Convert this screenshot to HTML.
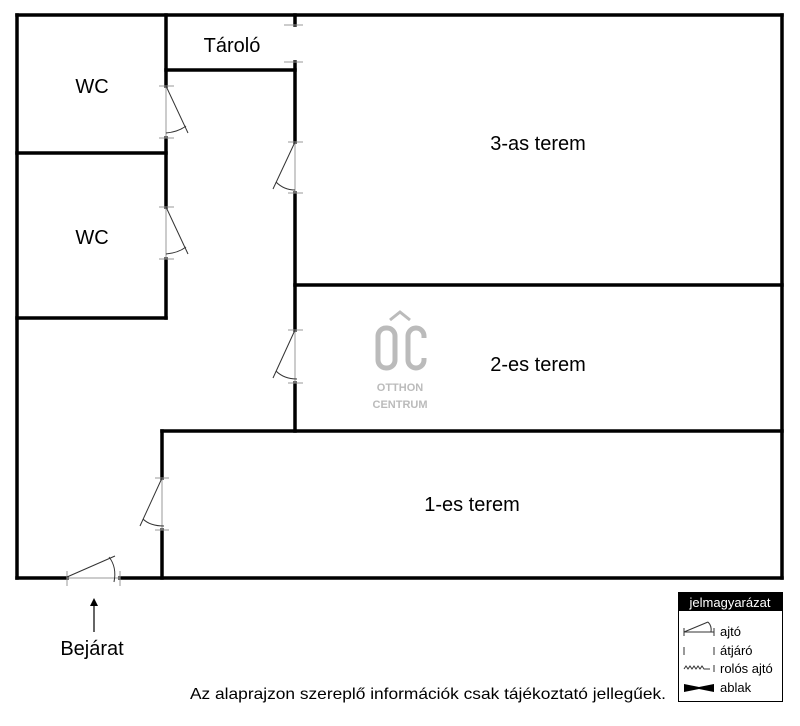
<!DOCTYPE html>
<html><head><meta charset="utf-8"><style>
body{margin:0;background:#fff;width:800px;height:721px;overflow:hidden;font-family:"Liberation Sans",sans-serif}
</style></head><body>
<svg width="800" height="721" viewBox="0 0 800 721" xmlns="http://www.w3.org/2000/svg" font-family="Liberation Sans, sans-serif">
<g stroke="#000" stroke-width="3.5" fill="none" stroke-linecap="square">
<line x1="17" y1="15" x2="782" y2="15"/>
<line x1="782" y1="15" x2="782" y2="578"/>
<line x1="17" y1="15" x2="17" y2="578"/>
<line x1="17" y1="578" x2="67" y2="578"/>
<line x1="120" y1="578" x2="782" y2="578"/>
<line x1="166" y1="15" x2="166" y2="86"/>
<line x1="166" y1="138" x2="166" y2="207"/>
<line x1="166" y1="259" x2="166" y2="318"/>
<line x1="17" y1="153" x2="166" y2="153"/>
<line x1="17" y1="318" x2="166" y2="318"/>
<line x1="166" y1="70" x2="295" y2="70"/>
<line x1="295" y1="15" x2="295" y2="25"/>
<line x1="295" y1="62" x2="295" y2="142"/>
<line x1="295" y1="193" x2="295" y2="330"/>
<line x1="295" y1="383" x2="295" y2="431"/>
<line x1="295" y1="285" x2="782" y2="285"/>
<line x1="162" y1="431" x2="782" y2="431"/>
<line x1="162" y1="431" x2="162" y2="478"/>
<line x1="162" y1="530" x2="162" y2="578"/>
</g>
<g stroke="#999" stroke-width="1" fill="none">
<line x1="284" y1="25" x2="303" y2="25"/><line x1="284" y1="62" x2="303" y2="62"/>
<line x1="159" y1="86" x2="174" y2="86"/><line x1="159" y1="138" x2="174" y2="138"/><line x1="166" y1="86" x2="166" y2="138"/>
<line x1="159" y1="207" x2="174" y2="207"/><line x1="159" y1="259" x2="174" y2="259"/><line x1="166" y1="207" x2="166" y2="259"/>
<line x1="288" y1="142" x2="303" y2="142"/><line x1="288" y1="193" x2="303" y2="193"/><line x1="295" y1="142" x2="295" y2="193"/>
<line x1="288" y1="330" x2="303" y2="330"/><line x1="288" y1="383" x2="303" y2="383"/><line x1="295" y1="330" x2="295" y2="383"/>
<line x1="155" y1="478" x2="169" y2="478"/><line x1="155" y1="530" x2="169" y2="530"/><line x1="162" y1="478" x2="162" y2="530"/>
<line x1="67" y1="571" x2="67" y2="586"/><line x1="120" y1="571" x2="120" y2="586"/><line x1="67" y1="578" x2="120" y2="578"/>
</g>
<g stroke="#333" stroke-width="1" fill="none">
<line x1="166" y1="86" x2="188" y2="133"/><path d="M166 133 Q178 132 186 126"/>
<line x1="166" y1="207" x2="188" y2="254"/><path d="M166 254 Q178 253 186 247"/>
<line x1="295" y1="142" x2="273" y2="189"/><path d="M295 190 Q284 190 276 182"/>
<line x1="295" y1="330" x2="273" y2="378"/><path d="M297 379 Q284 379 276 371"/>
<line x1="162" y1="478" x2="140" y2="526"/><path d="M164 526 Q150 526 143 519"/>
<line x1="67" y1="577" x2="115" y2="556"/><path d="M109 557 Q117 567 114 582"/>
</g>
<g font-size="20" fill="#000" text-anchor="middle">
<text x="92" y="93">WC</text>
<text x="92" y="244">WC</text>
<text x="232" y="52">Tároló</text>
<text x="538" y="150">3-as terem</text>
<text x="538" y="371">2-es terem</text>
<text x="472" y="511">1-es terem</text>
<text x="92" y="655">Bejárat</text>
</g>
<line x1="94" y1="632" x2="94" y2="604" stroke="#000" stroke-width="1.2"/>
<path d="M90 606 L94 598 L98 606 Z" fill="#000"/>
<g fill="none" stroke="#bbb" stroke-width="5">
<path d="M390 320 L400 312 L410 320" stroke-width="3"/>
<rect x="378" y="328" width="17" height="40" rx="8"/>
<path d="M424 338 v-2 a8 8 0 0 0 -16 0 v24 a8 8 0 0 0 16 0 v-2"/>
</g>
<g fill="#bbb" font-size="11" font-weight="bold" text-anchor="middle">
<text x="400" y="391">OTTHON</text><text x="400" y="408">CENTRUM</text>
</g>
<text x="190" y="699" font-size="16" fill="#000" textLength="476" lengthAdjust="spacingAndGlyphs">Az alaprajzon szereplő információk csak tájékoztató jellegűek.</text>
<rect x="678.5" y="592.5" width="104" height="109" fill="#fff" stroke="#000"/>
<rect x="679" y="593" width="103" height="18" fill="#000"/>
<text x="730" y="607" font-size="13" fill="#fff" text-anchor="middle">jelmagyarázat</text>
<g font-size="13" fill="#000">
<text x="720" y="636">ajtó</text><text x="720" y="655">átjáró</text><text x="720" y="673">rolós ajtó</text><text x="720" y="692">ablak</text>
</g>
<g stroke="#333" stroke-width="1" fill="none">
<line x1="684" y1="628" x2="684" y2="636"/><line x1="684" y1="632" x2="714" y2="632"/><line x1="714" y1="628" x2="714" y2="636"/>
<line x1="684" y1="632" x2="708" y2="622"/><path d="M708 622 Q712 626 711 632"/>
<line x1="684" y1="647" x2="684" y2="655"/><line x1="714" y1="647" x2="714" y2="655"/>
<path d="M684 669 l2 -3 l2 3 l2 -3 l2 3 l2 -3 l2 3 l2 -3 l2 3 l2 -3 l2 3 h6"/><line x1="714" y1="665" x2="714" y2="672"/>
</g>
<path d="M684 684 L699 687 L714 684 L714 692 L699 689 L684 692 Z" fill="#000"/>
</svg>
</body></html>
